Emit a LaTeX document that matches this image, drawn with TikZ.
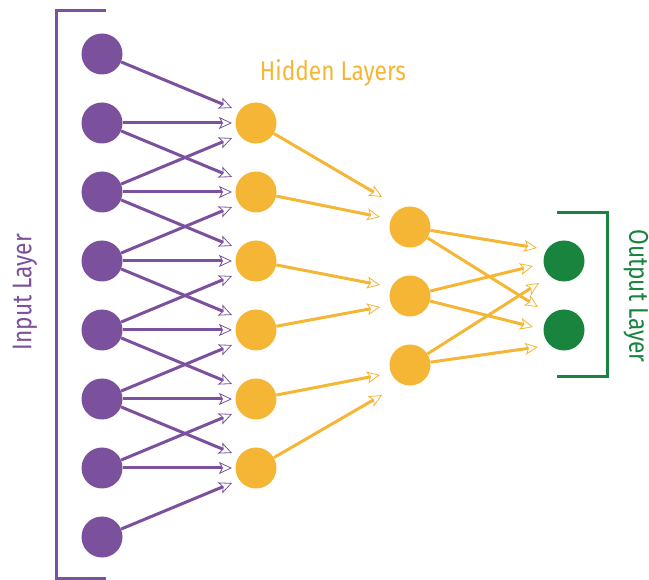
\documentclass[tikz,border=0pt]{standalone}
\usepackage{fontspec}
\newfontfamily\layerfont[FakeStretch=0.84]{Fira Sans}
\usetikzlibrary{arrows.meta,calc}

\definecolor{inpurple}{RGB}{123,80,157}
\definecolor{hidyellow}{RGB}{245,182,53}
\definecolor{outgreen}{RGB}{24,132,62}

\tikzset{
	neuron/.style={circle, minimum size=41pt, inner sep=0pt},
	link/.style={line width=3pt, -{Stealth[length=13pt, width=12pt, inset=3pt, line width=0.8pt, fill=white]}},
	bracket/.style={line width=3pt},
	layername/.style={font=\layerfont\fontsize{27}{27}\selectfont, inner sep=0pt},
}

\begin{document}
\begin{tikzpicture}[x=1pt, y=-1pt]
	\useasboundingbox (0,0) rectangle (649,580);
	% neurons
	\foreach \i in {1,...,8}
		\node[neuron, fill=inpurple] (in\i) at (102, {54+69*(\i-1)}) {};
	\foreach \j in {1,...,6}
		\node[neuron, fill=hidyellow] (ha\j) at (256, {123+69*(\j-1)}) {};
	\foreach \k in {1,2,3}
		\node[neuron, fill=hidyellow] (hb\k) at (410, {227+69*(\k-1)}) {};
	\foreach \m in {1,2}
		\node[neuron, fill=outgreen] (out\m) at (564, {261+69*(\m-1)}) {};
	% input -> first hidden layer
	\foreach \j in {1,...,6}
		\foreach \d in {-1,0,1} {
			\pgfmathtruncatemacro\i{\j+1+\d}
			\draw[link, inpurple] (in\i) -- ($(ha\j)+(-24,15*\d)$);
		}
	% first -> second hidden layer
	\foreach \j/\k/\dx/\dy in {1/1/-28/-30, 2/1/-30/-10, 3/2/-30/-11, 4/2/-30/11, 5/3/-30/10, 6/3/-28/30}
		\draw[link, hidyellow] (ha\j) -- ($(hb\k)+(\dx,\dy)$);
	% second hidden layer -> output
	\foreach \k/\m/\dx/\dy in {1/1/-27/-13, 2/1/-31/5, 3/1/-25/22, 1/2/-26/-23, 2/2/-31/-3, 3/2/-26/17}
		\draw[link, hidyellow] (hb\k) -- ($(out\m)+(\dx,\dy)$);
	% brackets and labels
	\draw[bracket, inpurple] (106,11) -| (56,578) -- (106,578);
	\draw[bracket, outgreen] (557,213) -| (607,377) -- (557,377);
	\node[layername, text=inpurple, rotate=90] (inlabel) at (25,292) {Input Layer};
	\node[layername, text=hidyellow] (hidlabel) at (333,73) {Hidden Layers};
	\node[layername, text=outgreen, rotate=-90] (outlabel) at (636,296) {Output Layer};
\end{tikzpicture}
\end{document}
